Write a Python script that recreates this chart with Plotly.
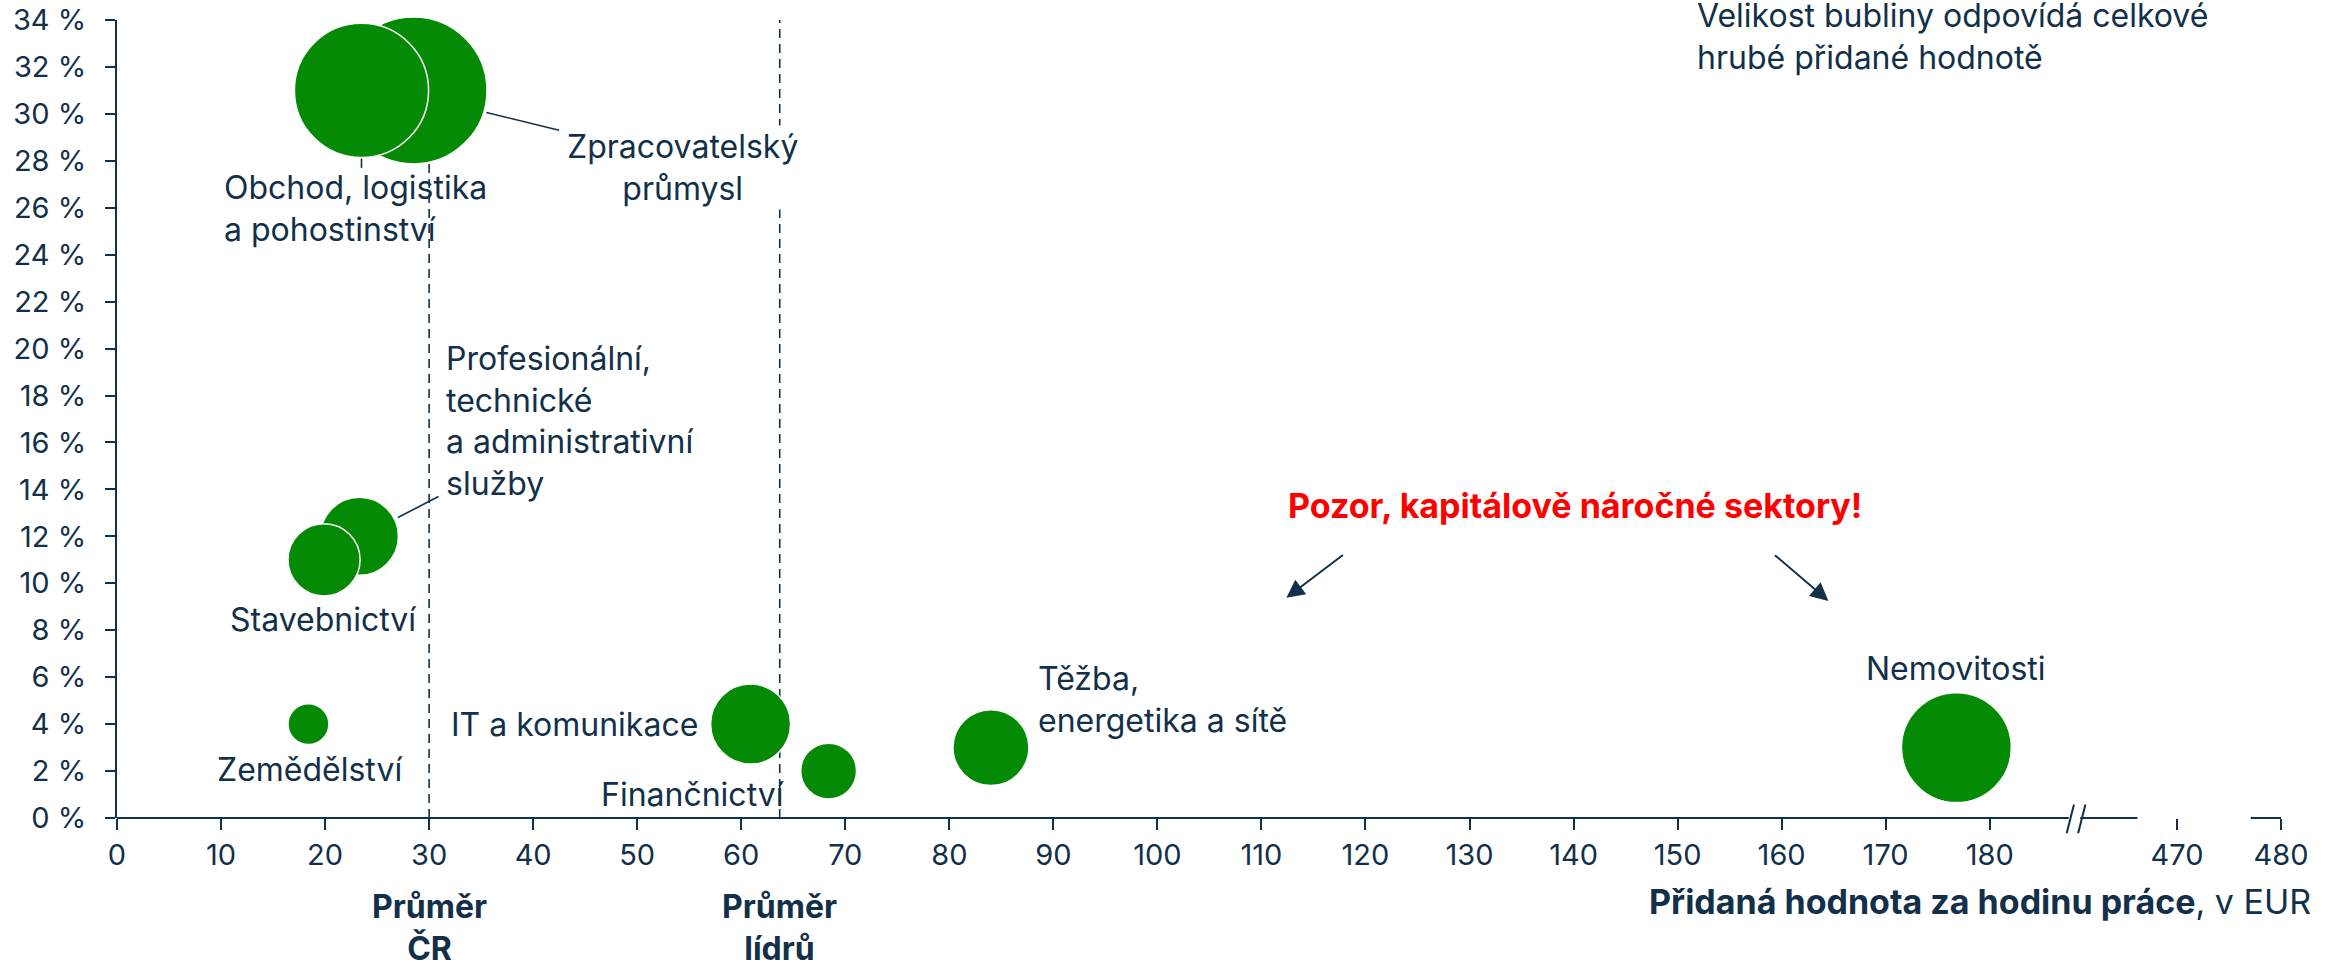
import plotly.graph_objects as go

# ---------------- data ----------------
sectors = ["Zpracovatelský průmysl", "Obchod, logistika a pohostinství",
           "Profesionální, technické a administrativní služby", "Stavebnictví",
           "Zemědělství", "IT a komunikace", "Finančnictví",
           "Těžba, energetika a sítě", "Nemovitosti"]
value_per_hour = [28.5, 23.5, 23.3, 19.9, 18.4, 60.9, 68.4, 84.0, 176.8]   # EUR
share_pct = [31, 31, 12, 11, 4, 4, 2, 3, 3]                                  # y, %
gva_share = [27.0, 22.5, 7.6, 6.5, 2.1, 8.0, 3.9, 7.2, 15.1]                # bubble size

avg_cr = 30.0
avg_leaders = 63.7

x_tick_values = [0, 10, 20, 30, 40, 50, 60, 70, 80, 90, 100, 110, 120, 130,
                 140, 150, 160, 170, 180, 470, 480]
y_tick_values = list(range(0, 35, 2))

# ---------------- helpers ----------------
BREAK_SHIFT = 272          # values beyond the axis break are drawn shifted
X_MAX = 208


def ax_x(v):
    return v if v < 190 else v - BREAK_SHIFT


def px(v):                 # axis value -> paper fraction
    return v / X_MAX


NAVY = "#12304a"
GREEN = "#058a05"
FONT = "Inter, 'Open Sans', sans-serif"

fig = go.Figure()
fig.add_trace(go.Scatter(
    x=[ax_x(v) for v in value_per_hour], y=share_pct, mode="markers",
    text=sectors, hoverinfo="text", cliponaxis=False,
    marker=dict(size=gva_share, sizemode="area", sizeref=0.0025,
                color=GREEN, opacity=1, line=dict(color="white", width=1.5)),
    showlegend=False))

shapes = []
# average lines
for xv in (avg_cr, avg_leaders):
    shapes.append(dict(type="line", xref="x", yref="y", x0=xv, x1=xv, y0=0, y1=34,
                       line=dict(color=NAVY, width=1.6, dash="9px,6px"), layer="below"))
# x axis line segments with break
for a, b in ((0, 187.6), (188.7, 194.2), (205.1, 208)):
    shapes.append(dict(type="line", xref="paper", yref="paper", x0=px(a), x1=px(b),
                       y0=0, y1=0, line=dict(color=NAVY, width=2)))
for xs in (187.4, 188.5):
    shapes.append(dict(type="line", xref="paper", yref="paper",
                       x0=px(xs), x1=px(xs + 0.7), y0=-0.019, y1=0.017,
                       line=dict(color=NAVY, width=2)))
# leader lines
for (x0, y0, x1, y1) in ((35.5, 30.06, 42.5, 29.3), (23.5, 28.1, 23.5, 27.7),
                         (27.0, 12.8, 30.9, 13.7)):
    shapes.append(dict(type="line", xref="x", yref="y", x0=x0, y0=y0, x1=x1, y1=y1,
                       line=dict(color=NAVY, width=1.6)))

lab = dict(showarrow=False, font=dict(family=FONT, size=32, color=NAVY))
ann = [
    dict(x=10.1, y=25.97, text="Obchod, logistika<br>a pohostinství", xanchor="left", align="left", **lab),
    dict(x=54.4, y=27.7, text="Zpracovatelský<br>průmysl", xanchor="center", align="center",
         bgcolor="white", **lab),
    dict(x=31.4, y=16.9, text="Profesionální,<br>technické<br>a administrativní<br>služby",
         xanchor="left", align="left", **lab),
    dict(x=19.8, y=8.44, text="Stavebnictví", xanchor="center", **lab),
    dict(x=18.5, y=2.05, text="Zemědělství", xanchor="center", **lab),
    dict(x=56.0, y=4.0, text="IT a komunikace", xanchor="right", **lab),
    dict(x=55.3, y=1.0, text="Finančnictví", xanchor="center", **lab),
    dict(x=88.3, y=5.03, text="Těžba,<br>energetika a sítě", xanchor="left", align="left", **lab),
    dict(x=176.8, y=6.35, text="Nemovitosti", xanchor="center", **lab),
    dict(x=140.1, y=13.3, text="<b>Pozor, kapitálově náročné sektory!</b>", showarrow=False,
         font=dict(family=FONT, size=34, color="#ff0000")),
    dict(x=112.4, y=9.38, ax=58, ay=-44, text="", showarrow=True, arrowhead=2,
         arrowsize=1.8, arrowwidth=2, arrowcolor=NAVY),
    dict(x=164.5, y=9.25, ax=-55, ay=-47, text="", showarrow=True, arrowhead=2,
         arrowsize=1.8, arrowwidth=2, arrowcolor=NAVY),
    dict(xref="x", yref="paper", x=avg_cr, y=-0.137, text="<b>Průměr<br>ČR</b>",
         yanchor="middle", **lab),
    dict(xref="x", yref="paper", x=avg_leaders, y=-0.137, text="<b>Průměr<br>lídrů</b>",
         yanchor="middle", **lab),
    dict(xref="paper", yref="paper", x=1.0148, y=-0.105,
         text="<b>Přidaná hodnota za hodinu práce</b>, v EUR", xanchor="right",
         yanchor="middle", showarrow=False, font=dict(family=FONT, size=34, color=NAVY)),
    dict(xref="paper", yref="paper", x=0.729, y=0.979,
         text="Velikost bubliny odpovídá celkové<br>hrubé přidané hodnotě",
         xanchor="left", yanchor="middle", align="left", **lab),
]

fig.update_layout(
    width=2343, height=964, autosize=False,
    margin=dict(l=117, r=62, t=20, b=146, pad=0, autoexpand=False),
    paper_bgcolor="white", plot_bgcolor="white",
    font=dict(family=FONT, size=28, color=NAVY),
    shapes=shapes, annotations=ann,
    xaxis=dict(range=[0, X_MAX], tickvals=[ax_x(v) for v in x_tick_values],
               ticktext=[str(v) for v in x_tick_values], showgrid=False, zeroline=False,
               showline=False, ticks="outside", ticklen=11, tickwidth=2, tickcolor=NAVY,
               automargin=False, tickfont=dict(family=FONT, size=29, color=NAVY)),
    yaxis=dict(range=[0, 34], tickvals=y_tick_values,
               ticktext=[f"{v} %" for v in y_tick_values], showgrid=False, zeroline=False,
               showline=True, linecolor=NAVY, linewidth=2, ticks="outside", ticklen=10,
               tickwidth=2, tickcolor=NAVY, ticklabelstandoff=13, automargin=False,
               tickfont=dict(family=FONT, size=29, color=NAVY)),
)

fig.write_html("out.html", config={"displayModeBar": False},
               post_script="document.body.style.margin='0';document.body.style.overflow='hidden';")
